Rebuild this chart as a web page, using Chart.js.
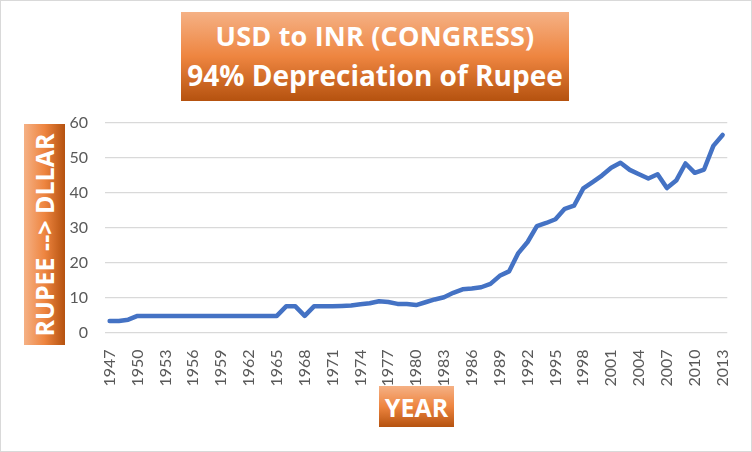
<!DOCTYPE html>
<html>
<head>
<meta charset="utf-8">
<script src="https://cdn.jsdelivr.net/npm/chart.js@4/dist/chart.umd.min.js"></script>
<style>
  html, body { margin: 0; padding: 0; background: #fff; }
  #wrap { position: relative; width: 750px; height: 450px; border: 1px solid #D9D9D9; overflow: hidden; }
  #c { position: absolute; left: 0; top: 0; }
  .box { position: absolute; color: #fff; font-family: "Open Sans", Lato, sans-serif; font-weight: bold; }
  .grad-v { background: linear-gradient(to bottom, #F5B185 0%, #EE8540 50%, #B5520F 100%); }
  #title { left: 180px; top: 11px; width: 388px; height: 89px; }
  #title div { position: absolute; left: 0; right: 0; text-align: center; white-space: nowrap; }
  #t1 { top: 10px; font-size: 27px; line-height: 27px; letter-spacing: 0.2px; }
  #t2 { top: 49px; font-size: 28px; line-height: 28px; }
  #ytitle { left: 23px; top: 123px; width: 41px; height: 221px;
            background: linear-gradient(to right, #F5B185 0%, #EE8540 50%, #B5520F 100%);
            display: flex; align-items: center; justify-content: center; }
  #ytitle span { display: block; transform: rotate(-90deg); white-space: nowrap; font-size: 25px; }
  #xtitle { left: 378px; top: 385px; width: 75px; height: 41px; font-size: 25px;
            display: flex; align-items: center; justify-content: center; }
</style>
</head>
<body>
<div id="wrap">
  <canvas id="c" width="750" height="450"></canvas>
  <div class="box grad-v" id="title"><div id="t1">USD to INR (CONGRESS)</div><div id="t2">94% Depreciation of Rupee</div></div>
  <div class="box" id="ytitle"><span>RUPEE --&gt; DLLAR</span></div>
  <div class="box grad-v" id="xtitle">YEAR</div>
</div>
<script>
// Years 1947..2013 and rupees per dollar
const years = [
  "1947","1948","1949","1950","1951","1952","1953","1954","1955","1956",
  "1957","1958","1959","1960","1961","1962","1963","1964","1965","1966",
  "1967","1968","1969","1970","1971","1972","1973","1974","1975","1976",
  "1977","1978","1979","1980","1981","1982","1983","1984","1985","1986",
  "1987","1988","1989","1990","1991","1992","1993","1994","1995","1996",
  "1997","1998","1999","2000","2001","2002","2003","2004","2005","2006",
  "2007","2008","2009","2010","2011","2012","2013"
];
const rupeePerDollar = [
  3.3, 3.31, 3.67, 4.76, 4.76, 4.76, 4.76, 4.76, 4.76, 4.76,
  4.76, 4.76, 4.76, 4.76, 4.76, 4.76, 4.76, 4.76, 4.76, 7.5,
  7.5, 4.76, 7.5, 7.5, 7.49, 7.59, 7.74, 8.1, 8.38, 8.96,
  8.74, 8.19, 8.13, 7.86, 8.66, 9.46, 10.1, 11.36, 12.37, 12.61,
  12.96, 13.92, 16.23, 17.5, 22.74, 25.92, 30.49, 31.37, 32.43, 35.43,
  36.31, 41.26, 43.06, 44.94, 47.19, 48.61, 46.58, 45.32, 44.1, 45.31,
  41.35, 43.51, 48.41, 45.73, 46.67, 53.44, 56.57
];
const yTicks = [0, 10, 20, 30, 40, 50, 60];

const tickFont = { family: "Lato, 'Open Sans', sans-serif", size: 16 };

new Chart(document.getElementById("c"), {
  type: "line",
  data: {
    labels: years,
    datasets: [{
      data: rupeePerDollar,
      borderColor: "#4472C4",
      borderWidth: 4.5,
      borderJoinStyle: "round",
      borderCapStyle: "round",
      pointRadius: 0,
      tension: 0,
      fill: false,
    }],
  },
  options: {
    responsive: false,
    animation: false,
    layout: { padding: { top: 122, right: 23, left: 0, bottom: 0 } },
    plugins: { legend: { display: false }, tooltip: { enabled: false } },
    scales: {
      x: {
        offset: true,
        grid: { display: false },
        border: { display: false },
        afterFit: s => { s.height = 118.5; },
        ticks: {
          autoSkip: false,
          maxRotation: 90, minRotation: 90,
          padding: 9,
          color: "#595959",
          font: tickFont,
          callback: (v, i) => (i % 3 === 0 ? years[i] : ""),
        },
      },
      y: {
        min: yTicks[0], max: yTicks[yTicks.length - 1],
        afterFit: s => { s.width = 104; },
        afterBuildTicks: s => { s.ticks = yTicks.map(v => ({ value: v })); },
        grid: { color: "#D9D9D9", lineWidth: 1.3, drawTicks: false },
        border: { display: false },
        ticks: { color: "#595959", font: tickFont, padding: 17 },
      },
    },
  },
});
</script>
</body>
</html>
